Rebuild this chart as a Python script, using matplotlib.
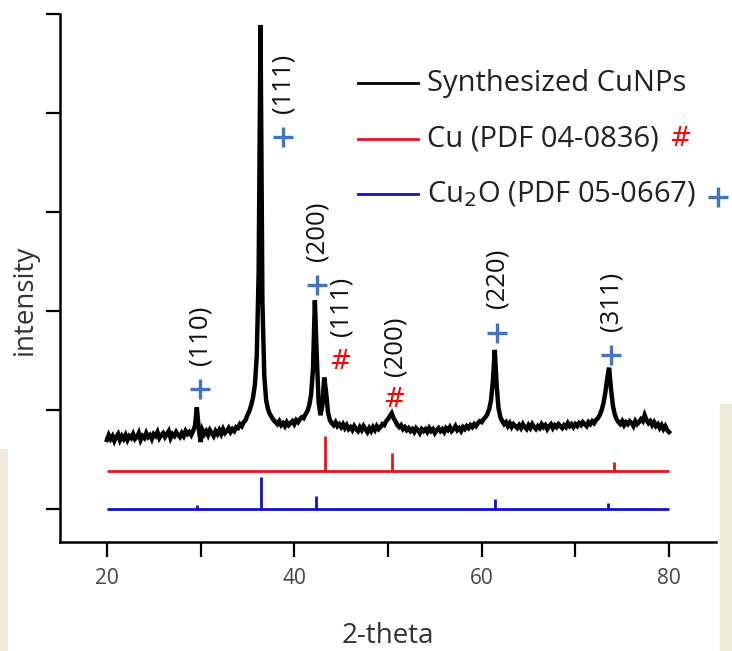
import matplotlib
matplotlib.use("Agg")
import matplotlib.pyplot as plt
import numpy as np
from matplotlib.patches import Rectangle

plt.rcParams['font.family'] = ['Open Sans', 'DejaVu Sans']

# --- measured XRD pattern of the synthesized particles (2-theta step 0.2 deg) ---
two_theta = np.round(np.arange(20.0, 80.01, 0.2), 1)
counts = [
    0.70, 0.75, 0.71, 0.74, 0.69, 0.73, 0.76, 0.70, 0.74, 0.71,   # 20
    0.75, 0.70, 0.74, 0.72, 0.76, 0.71, 0.73, 0.77, 0.70, 0.74,   # 22
    0.72, 0.77, 0.73, 0.75, 0.71, 0.76, 0.74, 0.78, 0.72, 0.75,   # 24
    0.77, 0.73, 0.76, 0.79, 0.72, 0.76, 0.74, 0.78, 0.75, 0.73,   # 26
    0.77, 0.74, 0.79, 0.76, 0.78, 0.75, 0.79, 0.84, 1.03, 0.82,   # 28
    0.68, 0.80, 0.76, 0.79, 0.75, 0.80, 0.77, 0.74, 0.79, 0.76,   # 30
    0.80, 0.76, 0.81, 0.77, 0.79, 0.82, 0.78, 0.81, 0.79, 0.83,   # 32
    0.82, 0.86, 0.84, 0.88, 0.90, 0.95, 0.99, 1.05, 1.13, 1.26,   # 34
    1.55, 2.40, 4.89, 2.10, 1.35, 1.10, 1.01, 0.96, 0.93, 0.90,   # 36
    0.88, 0.86, 0.89, 0.85, 0.87, 0.84, 0.88, 0.85, 0.87, 0.89,   # 38
    0.86, 0.90, 0.88, 0.91, 0.93, 0.92, 0.96, 0.99, 1.05, 1.16,   # 40
    1.42, 2.11, 1.55, 1.08, 0.95, 1.05, 1.33, 1.18, 0.98, 0.90,   # 42
    0.87, 0.85, 0.88, 0.84, 0.86, 0.83, 0.86, 0.82, 0.85, 0.81,   # 44
    0.83, 0.80, 0.84, 0.81, 0.79, 0.83, 0.80, 0.84, 0.81, 0.78,   # 46
    0.82, 0.79, 0.83, 0.80, 0.84, 0.81, 0.83, 0.86, 0.85, 0.89,   # 48
    0.91, 0.94, 0.97, 0.92, 0.89, 0.85, 0.83, 0.85, 0.81, 0.83,   # 50
    0.80, 0.82, 0.79, 0.81, 0.78, 0.82, 0.80, 0.77, 0.81, 0.79,   # 52
    0.81, 0.78, 0.82, 0.79, 0.81, 0.77, 0.80, 0.82, 0.79, 0.81,   # 54
    0.78, 0.82, 0.80, 0.83, 0.79, 0.81, 0.84, 0.80, 0.82, 0.79,   # 56
    0.83, 0.81, 0.84, 0.82, 0.85, 0.83, 0.86, 0.84, 0.87, 0.89,   # 58
    0.88, 0.91, 0.93, 0.96, 1.01, 1.10, 1.30, 1.61, 1.25, 1.02,   # 60
    0.93, 0.89, 0.86, 0.88, 0.84, 0.87, 0.83, 0.86, 0.84, 0.82,   # 62
    0.85, 0.82, 0.86, 0.83, 0.81, 0.85, 0.82, 0.86, 0.83, 0.81,   # 64
    0.84, 0.82, 0.86, 0.83, 0.85, 0.81, 0.84, 0.86, 0.82, 0.85,   # 66
    0.83, 0.86, 0.84, 0.82, 0.85, 0.83, 0.87, 0.84, 0.86, 0.83,   # 68
    0.86, 0.84, 0.87, 0.85, 0.88, 0.86, 0.84, 0.88, 0.86, 0.89,   # 70
    0.87, 0.90, 0.92, 0.95, 1.00, 1.07, 1.18, 1.32, 1.43, 1.22,   # 72
    1.05, 0.96, 0.91, 0.88, 0.86, 0.89, 0.85, 0.88, 0.86, 0.89,   # 74
    0.87, 0.84, 0.89, 0.86, 0.88, 0.91, 0.89, 0.95, 0.90, 0.87,   # 76
    0.89, 0.85, 0.88, 0.84, 0.86, 0.82, 0.85, 0.81, 0.84, 0.80,   # 78
    0.78,                                                         # 80
]

# --- reference stick patterns ---
cu_pos = [43.3, 50.4, 74.1]
cu_height = [0.35, 0.18, 0.09]
cu_offset = 0.39

cu2o_pos = [29.6, 36.4, 42.3, 61.4, 73.5, 77.4]
cu2o_height = [0.04, 0.33, 0.13, 0.10, 0.06, 0.015]
cu2o_offset = 0.0

# --- peak indexing: (2theta of mark, y of mark, y of label, hkl) ---
cu2o_marks = [(29.95, 1.21, 1.76, '(110)'),
              (38.85, 3.76, 4.30, '(111)'),
              (42.4, 2.26, 2.81, '(200)'),
              (61.6, 1.78, 2.33, '(220)'),
              (73.8, 1.56, 2.10, '(311)')]
cu_marks = [(44.95, 1.49, 2.05, '(111)'),
            (50.75, 1.10, 1.65, '(200)')]

plus_color = '#4472C4'
hash_color = '#FF0000'
cu_color = '#E8141C'
cu2o_color = '#1010C8'

fig = plt.figure(figsize=(7.32, 6.51), dpi=100)

# light paper texture at the edges of the page
fig.patches.append(Rectangle((0, 0), 0.010, 0.31, transform=fig.transFigure,
                             color='#EEEBDA', zorder=0))
fig.patches.append(Rectangle((0.983, 0), 0.017, 0.38, transform=fig.transFigure,
                             color='#EEEBDA', zorder=0))

ax = fig.add_axes([0.082, 0.1674, 0.896, 0.811])
ax.patch.set_alpha(0)

ax.plot(two_theta, counts, color='black', lw=3.2, solid_joinstyle='miter')

ax.hlines(cu_offset, 20, 80, color=cu_color, lw=2.0)
ax.vlines(cu_pos, cu_offset, cu_offset + np.array(cu_height), color=cu_color, lw=2.0)
ax.hlines(cu2o_offset, 20, 80, color=cu2o_color, lw=2.0)
ax.vlines(cu2o_pos, cu2o_offset, cu2o_offset + np.array(cu2o_height), color=cu2o_color, lw=2.0)

for x, ym, yl, hkl in cu2o_marks:
    ax.plot(x, ym, marker='+', ms=14, mew=2.4, color=plus_color)
    ax.text(x, yl, hkl, rotation=90, ha='center', va='center', fontsize=18.5,
            color='#111111')
for x, ym, yl, hkl in cu_marks:
    ax.text(x, ym, '#', color=hash_color, ha='center', va='center', fontsize=19,
            family='DejaVu Sans')
    ax.text(x, yl, hkl, rotation=90, ha='center', va='center', fontsize=18.5,
            color='#111111')

# legend
legend_rows = [('black', 'Synthesized CuNPs'),
               (cu_color, 'Cu (PDF 04-0836)'),
               (cu2o_color, 'Cu$_2$O (PDF 05-0667)')]
row_y = [0.869, 0.763, 0.659]
for (c, lab), yy in zip(legend_rows, row_y):
    ax.plot([0.454, 0.546], [yy, yy], color=c, lw=2.0, transform=ax.transAxes,
            clip_on=False)
    ax.text(0.5595, yy, lab, transform=ax.transAxes, ha='left', va='center',
            fontsize=21, color='#222222')
ax.text(0.947, row_y[1], '#', transform=ax.transAxes, ha='center', va='center',
        fontsize=19, color=hash_color, family='DejaVu Sans')
ax.plot(1.003, row_y[2] - 0.006, marker='+', ms=14, mew=2.4, color=plus_color,
        transform=ax.transAxes, clip_on=False)

ax.set_xlim(15, 85)
ax.set_ylim(-0.33, 5.0)
ax.spines['top'].set_visible(False)
ax.spines['right'].set_visible(False)
for s in ['left', 'bottom']:
    ax.spines[s].set_linewidth(1.8)

ax.set_xticks([20, 30, 40, 50, 60, 70, 80])
ax.set_xticklabels(['20', '', '40', '', '60', '', '80'])
ax.set_yticks([0, 1, 2, 3, 4, 5])
ax.set_yticklabels([])
ax.tick_params(axis='x', length=11, width=1.6, pad=8, labelsize=15, labelcolor='#444444')
ax.tick_params(axis='y', length=10, width=1.6)

ax.set_xlabel('2-theta', fontsize=20, color='#333333', va='baseline')
ax.xaxis.set_label_coords(0.5, -0.192)
ax.set_ylabel('intensity', fontsize=20, color='#333333', va='center')
ax.yaxis.set_label_coords(-0.053, 0.458)

fig.savefig('out.png', dpi=100)
